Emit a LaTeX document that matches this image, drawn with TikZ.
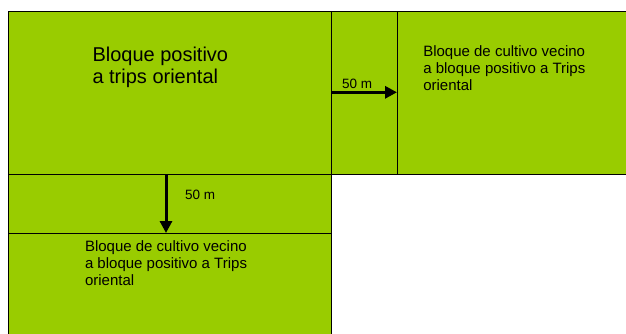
\documentclass[tikz,border=0pt]{standalone}
\usepackage{fontspec}
\setmainfont{Liberation Sans}
\usetikzlibrary{arrows.meta}
\definecolor{field}{HTML}{99CC00}
\begin{document}
\begin{tikzpicture}[x=1pt,y=-1pt,
  blockbox/.style={draw=black,fill=field,line width=0.9pt,rectangle,inner sep=0pt,outer sep=0pt,anchor=north west},
  lbl/.style={inner sep=0pt,outer sep=0pt,anchor=base west,text=black},
  arrowline/.style={line width=3pt,-{Triangle[length=12pt,width=12pt]}}]
\clip (0,0) rectangle (626,333);
\fill[white] (0,0) rectangle (626,333);
\node[blockbox,minimum width=323pt,minimum height=163pt] (main) at (8,11) {};
\node[blockbox,minimum width=66pt,minimum height=163pt] (gap1) at (331,11) {};
\node[blockbox,minimum width=232pt,minimum height=163pt] (right) at (397,11) {};
\node[blockbox,minimum width=323pt,minimum height=59pt] (gap2) at (8,174) {};
\node[blockbox,minimum width=323pt,minimum height=102pt] (bottom) at (8,233) {};
\node[lbl] (t1) at (92.5,61) {\parbox[t]{220pt}{\fontsize{20}{22.5}\selectfont Bloque positivo\\a trips oriental}};
\node[lbl] (t2) at (423.3,56.3) {\parbox[t]{200pt}{\fontsize{15}{17}\selectfont Bloque de cultivo vecino\\a bloque positivo a Trips\\oriental}};
\node[lbl] (t3) at (85,251.7) {\parbox[t]{200pt}{\fontsize{15}{17}\selectfont Bloque de cultivo vecino\\a bloque positivo a Trips\\oriental}};
\node[lbl] (d1) at (342,88.3) {\fontsize{13.5}{16}\selectfont 50 m};
\node[lbl] (d2) at (185,199) {\fontsize{13.5}{16}\selectfont 50 m};
\path (main.north east) ++(0,81.3) coordinate (hstart);
\draw[arrowline] (hstart) -- (hstart -| right.west);
\path (main.south west) ++(158,0) coordinate (vstart);
\draw[arrowline] (vstart) -- (vstart |- bottom.north);
\end{tikzpicture}
\end{document}
